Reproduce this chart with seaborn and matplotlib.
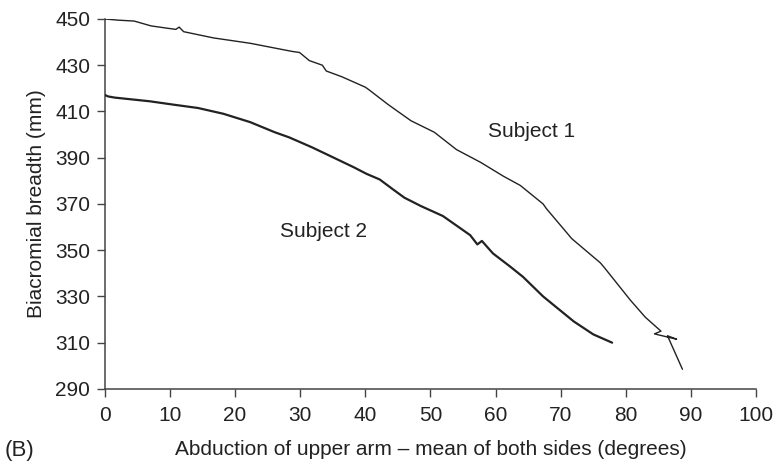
import numpy as np
import pandas as pd
import seaborn as sns
import matplotlib
matplotlib.use("Agg")
import matplotlib.pyplot as plt

sns.set_style("ticks")
plt.rcParams['font.family'] = ['Liberation Sans', 'DejaVu Sans']

# subject 1 (upper, thin line) - abduction angle vs breadth
s1_x = [0, 2, 4.5, 7.1, 9.6, 10.9, 11.4, 12.1, 16.7, 22.3, 28.7, 29.9, 31.4, 33.4,
        34, 36.4, 40, 40.5, 43.5, 47, 50.6, 54, 57.7, 61.2, 63.8, 67.3, 67.8, 71.7,
        76.1, 76.7, 80.7, 83, 85.4, 84.4, 87.8, 86.4, 88.7]
s1_y = [450, 449.5, 449.1, 447, 446, 445.5, 446.5, 444.5, 441.8, 439.5, 436, 435.5,
        432, 430, 427.5, 425, 420.5, 419.5, 413, 406, 401, 393.5, 388, 382, 378,
        370, 368, 355, 344.5, 342.5, 328.4, 321, 315, 313.8, 311.5, 313, 298.5]

# subject 2 (lower, thick line)
s2_x = [-0.3, 0.5, 1.5, 6.9, 10.4, 14.3, 18.2, 22.3, 26.1, 28.3, 31.8, 35.6, 38.2,
        40.2, 42.2, 44.2, 46, 48.6, 51.9, 56.1, 57.2, 57.9, 59.6, 62.2, 64.2, 67.3,
        72, 75, 77.9]
s2_y = [417.5, 416.5, 416, 414.4, 413, 411.5, 409, 405.4, 401, 398.8, 394.5, 389.4,
        385.9, 383, 380.6, 376.4, 372.7, 369, 364.8, 356.5, 352.5, 354, 348.6, 343,
        338.5, 330, 319.2, 313.6, 310]

x_ticks = list(range(0, 101, 10))
y_ticks = list(range(290, 451, 20))

df1 = pd.DataFrame({"x": s1_x, "y": s1_y})
df2 = pd.DataFrame({"x": s2_x, "y": s2_y})

fig = plt.figure(figsize=(7.77, 4.63), dpi=100)
ax = fig.add_axes([0.135, 0.16, 0.838, 0.799])

ink = "#222222"
fs = 15
sns.lineplot(data=df1, x="x", y="y", sort=False, estimator=None, color=ink, lw=1.0, ax=ax)
sns.lineplot(data=df2, x="x", y="y", sort=False, estimator=None, color=ink, lw=1.6, ax=ax)

ax.set_xlim(0, 100)
ax.set_ylim(290, 450)
ax.set_xticks(x_ticks)
ax.set_yticks(y_ticks)
ax.tick_params(direction="out", length=6, width=1, color="#444444",
               labelsize=fs, labelcolor=ink)
ax.tick_params(axis="x", pad=6)
ax.tick_params(axis="y", pad=4.5)
for s in ["left", "bottom"]:
    ax.spines[s].set_color("#444444")
    ax.spines[s].set_linewidth(1.1)
sns.despine(ax=ax)
ax.spines["left"].set_zorder(0)

ax.set_xlabel("Abduction of upper arm \u2013 mean of both sides (degrees)",
              fontsize=fs, color=ink, labelpad=11)
ax.set_ylabel("Biacromial breadth (mm)", fontsize=fs, color=ink, labelpad=7)

ax.text(65.6, 401.4, "Subject 1", fontsize=fs, color=ink, ha="center", va="center")
ax.text(33.6, 358.3, "Subject 2", fontsize=fs, color=ink, ha="center", va="center")
fig.text(0.006, 0.028, "(B)", fontsize=fs + 1, color=ink, ha="left", va="center")

fig.savefig("out.png", dpi=100)
